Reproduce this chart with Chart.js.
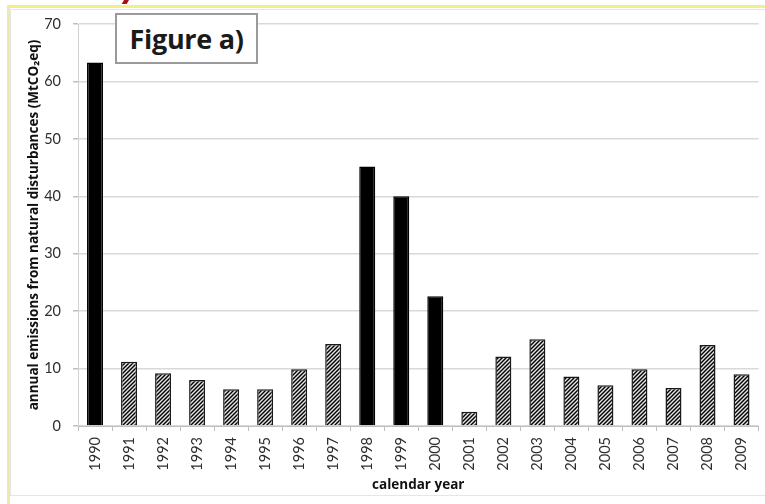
<!DOCTYPE html>
<html>
<head>
<meta charset="utf-8">
<script src="https://cdn.jsdelivr.net/npm/chart.js@4.4.1/dist/chart.umd.min.js"></script>
<style>
  html, body { margin: 0; padding: 0; background: #fff; }
  #wrap { position: relative; width: 765px; height: 504px; overflow: hidden; background: #fff; }
  #chart { position: absolute; left: 0; top: 0; }
  .hl-top { position: absolute; left: 7px; top: 5px; width: 758px; height: 3px; background: #f3ee86; }
  .hl-left { position: absolute; left: 7px; top: 5px; width: 3px; height: 499px; background: #efe8b0; }
  .frame { position: absolute; left: 10px; top: 9px; width: 755px; height: 487px; box-sizing: border-box;
           border: 1px solid #e6e6e6; border-right: none; }
  .mark { position: absolute; left: 124px; top: -4px; width: 5px; height: 8px; background: #a80f0f; transform: skewX(-30deg); }
  .title-box { position: absolute; left: 115px; top: 13px; width: 143px; height: 51px; box-sizing: border-box;
               border: 2px solid #9a9a9a; background: #fff; display: flex; align-items: center; justify-content: center;
               font: bold 27px 'Open Sans', sans-serif; color: #1a1a1a; letter-spacing: -0.3px; }
</style>
</head>
<body>
<div id="wrap">
  <div class="hl-top"></div>
  <div class="hl-left"></div>
  <div class="frame"></div>
  <div class="mark"></div>
  <canvas id="chart" width="765" height="504"></canvas>
  <div class="title-box">Figure a)</div>
</div>
<script>
// calendar years on the x axis
const years = ['1990', '1991', '1992', '1993', '1994', '1995', '1996', '1997', '1998', '1999',
               '2000', '2001', '2002', '2003', '2004', '2005', '2006', '2007', '2008', '2009'];
// annual emissions from natural disturbances, MtCO2eq
const emissions = [63.3, 11.2, 9.2, 8.0, 6.4, 6.4, 9.9, 14.3, 45.2, 40.0,
                   22.6, 2.5, 12.1, 15.1, 8.6, 7.1, 9.9, 6.6, 14.1, 9.0];
// years drawn as solid black bars; the rest are hatched
const solidYears = ['1990', '1998', '1999', '2000'];
// y axis range and step
const yTicks = [0, 10, 20, 30, 40, 50, 60, 70];

function makeHatch() {
  const c = document.createElement('canvas');
  c.width = 4; c.height = 4;
  const g = c.getContext('2d');
  g.fillStyle = '#e4e4e4';
  g.fillRect(0, 0, 4, 4);
  g.strokeStyle = '#000';
  g.lineWidth = 1.4;
  g.beginPath();
  g.moveTo(0, 4); g.lineTo(4, 0);
  g.moveTo(-1, 1); g.lineTo(1, -1);
  g.moveTo(3, 5); g.lineTo(5, 3);
  g.stroke();
  return g.createPattern(c, 'repeat');
}

const ctx = document.getElementById('chart').getContext('2d');
const hatch = makeHatch();
const tickFont = { family: 'Lato', size: 14.5 };
const titleFont = { family: 'Open Sans', size: 13.5, weight: 'bold', lineHeight: 1.2 };

new Chart(ctx, {
  type: 'bar',
  data: {
    labels: years,
    datasets: [{
      data: emissions,
      backgroundColor: (c) => solidYears.includes(years[c.dataIndex]) ? '#000' : hatch,
      borderColor: (c) => solidYears.includes(years[c.dataIndex]) ? '#000' : '#1a1a1a',
      borderWidth: 1.5,
      barPercentage: 0.47,
      categoryPercentage: 1
    }]
  },
  options: {
    responsive: false,
    animation: false,
    devicePixelRatio: 1,
    layout: { padding: { left: 20, right: 3, top: 24, bottom: 6 } },
    plugins: { legend: { display: false }, tooltip: { enabled: false } },
    scales: {
      x: {
        grid: { display: true, drawOnChartArea: false, drawTicks: true, tickLength: 5, color: '#bfbfbf', offset: true },
        border: { display: true, color: '#bfbfbf', width: 1 },
        ticks: { font: tickFont, color: '#2e2e2e', minRotation: 90, maxRotation: 90, autoSkip: false, padding: 6 },
        title: { display: true, text: 'calendar year', font: titleFont, color: '#111', padding: { top: 0, bottom: 5 } },
        afterFit: (s) => { s.height = 72; }
      },
      y: {
        min: yTicks[0],
        max: yTicks[yTicks.length - 1],
        afterBuildTicks: (s) => { s.ticks = yTicks.map(v => ({ value: v })); },
        grid: { color: '#d9d9d9', lineWidth: 1.5, drawTicks: true, tickLength: 5, tickColor: '#bfbfbf' },
        border: { display: true, color: '#d0d0d0', width: 1 },
        ticks: { font: tickFont, color: '#2e2e2e', padding: 12 },
        title: { display: true, text: 'annual emissions from natural disturbances (MtCO\u2082eq)', font: titleFont, color: '#111', padding: { top: 6, bottom: 0 } },
        afterFit: (s) => { s.width = 58; }
      }
    }
  }
});
</script>
</body>
</html>
